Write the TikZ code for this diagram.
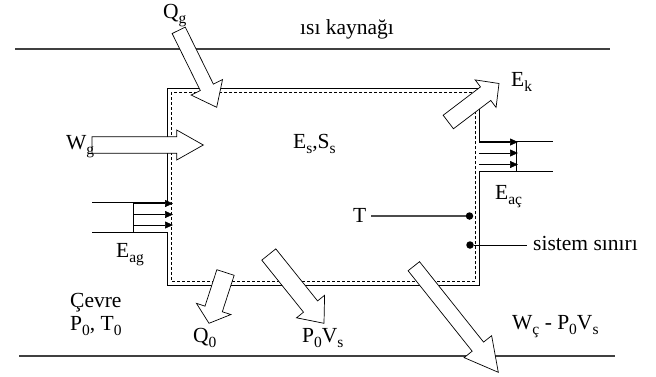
\documentclass[tikz,border=0pt]{standalone}
\usepackage{fontspec}
\setmainfont{Liberation Serif}
\usetikzlibrary{calc,arrows.meta}
\newcommand\sbs[1]{\raisebox{-5pt}{\fontsize{15.5}{15.5}\selectfont #1}}
% tail, tip, shaft half width, head half width, head length
\newcommand\hollowarrow[5]{%
  \coordinate (ha-H) at ($(#2)!#5!(#1)$);
  \draw[hollow] ($(#1)!#3!90:(#2)$) -- ($(ha-H)!#3!90:(#2)$) -- ($(ha-H)!#4!90:(#2)$)
    -- (#2) -- ($(ha-H)!#4!-90:(#2)$) -- ($(ha-H)!#3!-90:(#2)$) -- ($(#1)!#3!-90:(#2)$) -- cycle;}
\begin{document}
\begin{tikzpicture}[x=1pt,y=-1pt,
  font=\fontsize{21.5}{24}\selectfont,
  lbl/.style={inner sep=0pt, anchor=base west},
  bound/.style={draw=black!75, line width=1.1pt},
  wall/.style={draw=black, line width=0.8pt},
  inner/.style={draw=black, line width=0.7pt, dash pattern=on 3pt off 2pt},
  hollow/.style={draw=black, fill=white, line width=0.7pt, line join=miter},
  flow/.style={draw=black, line width=0.6pt, -{Triangle[length=8pt,width=7pt]}},
  lead/.style={draw=black!70, line width=1.1pt},
  dotm/.style={circle, fill=black, inner sep=0pt, minimum size=7.5pt}]
\useasboundingbox (0,0) rectangle (656,376);

% boundaries
\coordinate (t1) at (15,49); \coordinate (t2) at (610,49);
\coordinate (b1) at (19,356); \coordinate (b2) at (615,356);
\draw[bound] (t1) -- (t2);
\draw[bound] (b1) -- (b2);

% system walls
\coordinate (lu0) at (92,202); \coordinate (lu1) at (167,202);
\coordinate (tl) at (167,88); \coordinate (tr) at (479,88);
\coordinate (ru1) at (479,141); \coordinate (ru0) at (553,141);
\coordinate (ll0) at (92,232); \coordinate (ll1) at (167,232);
\coordinate (bl) at (167,285); \coordinate (br) at (479,285);
\coordinate (rl1) at (479,171); \coordinate (rl0) at (553,171);
\draw[wall] (lu0) -- (lu1) -- (tl) -- (tr) -- (ru1) -- (ru0);
\draw[wall] (ll0) -- (ll1) -- (bl) -- (br) -- (rl1) -- (rl0);
\coordinate (lv0) at (133,202); \coordinate (lv1) at (133,232);
\coordinate (rv0) at (516,141); \coordinate (rv1) at (516,171);
\draw[wall] (lv0) -- (lv1);
\draw[wall] (rv0) -- (rv1);
\coordinate (d1) at (171,92); \coordinate (d2) at (475,281);
\draw[inner] (d1) rectangle (d2);

% small flow arrows
\foreach \y [count=\i] in {203.5,214.5,225}{
  \coordinate (la\i) at (133,\y); \coordinate (lb\i) at (173,\y);
  \draw[flow] (la\i) -- (lb\i);}
\foreach \y [count=\i] in {142,153,164.5}{
  \coordinate (ra\i) at (479,\y); \coordinate (rb\i) at (518,\y);
  \draw[flow] (ra\i) -- (rb\i);}

% hollow arrows
\coordinate (qgA) at (178.7,30.3); \coordinate (qgB) at (216.7,107.3);
\hollowarrow{qgA}{qgB}{7.3pt}{17.5pt}{22.3pt}
\coordinate (wgA) at (92,145); \coordinate (wgB) at (203.3,145);
\hollowarrow{wgA}{wgB}{8.2pt}{15pt}{26.6pt}
\coordinate (ekA) at (448.3,122); \coordinate (ekB) at (499,83.5);
\hollowarrow{ekA}{ekB}{8.5pt}{17.3pt}{16.8pt}
\coordinate (q0A) at (225.5,272.5); \coordinate (q0B) at (209,323.3);
\hollowarrow{q0A}{q0B}{9.1pt}{18.1pt}{15.1pt}
\coordinate (pvA) at (268.8,254.5); \coordinate (pvB) at (324,323.3);
\hollowarrow{pvA}{pvB}{9pt}{18pt}{21.5pt}
\coordinate (wcA) at (413.8,266.2); \coordinate (wcB) at (498.3,372.3);
\hollowarrow{wcA}{wcB}{7.3pt}{17.6pt}{32.8pt}

% T and system boundary markers
\node[lbl] (T) at (353,222) {T};
\node[dotm] (dT) at (469.5,216) {};
\draw[lead] (371,216) -- (dT);
\node[dotm] (dS) at (470,245) {};
\node[lbl] (sis) at (533,250) {sistem sınırı};
\draw[wall] (dS) -- (527,245);

% labels
\node[lbl] (src) at (300,34) {ısı kaynağı};
\node[lbl] (Qg) at (163,18) {Q\sbs{g}};
\node[lbl] (Wg) at (66,149.5) {W\sbs{g}};
\node[lbl] (Es) at (293,148) {E\sbs{s},S\sbs{s}};
\node[lbl] (Ek) at (511,86) {E\sbs{k}};
\node[lbl] (Eac) at (495,199) {E\sbs{aç}};
\node[lbl] (Eag) at (116,257) {E\sbs{ag}};
\node[lbl] (cev) at (70,307) {Çevre};
\node[lbl] (PT) at (70,330) {P\sbs{0}, T\sbs{0}};
\node[lbl] (Q0) at (193,342) {Q\sbs{0}};
\node[lbl] (PV) at (302,342) {P\sbs{0}V\sbs{s}};
\node[lbl] (Wc) at (512,329) {W\sbs{ç} - P\sbs{0}V\sbs{s}};
\end{tikzpicture}
\end{document}
